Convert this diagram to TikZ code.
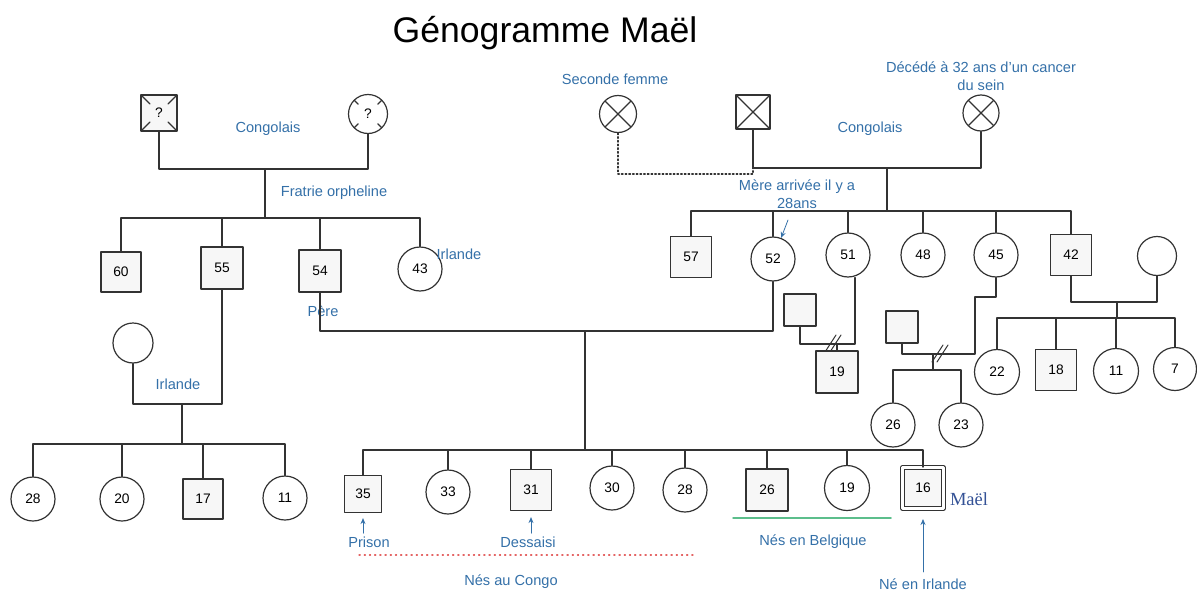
\documentclass[tikz,border=0pt]{standalone}
\usepackage{fontspec}
\setmainfont{Liberation Sans}
\newfontfamily\serifmael{Liberation Serif}
\usetikzlibrary{calc,arrows.meta}

\definecolor{lblue}{RGB}{52,112,168}
\definecolor{mblue}{RGB}{52,82,150}
\definecolor{lred}{RGB}{228,100,100}
\definecolor{lgreen}{RGB}{92,190,140}

\tikzset{
	homme/.style={draw=black!80, line width=1.2pt, rectangle, minimum size=#1, inner sep=0pt, fill=black!3, font=\fontsize{13.8}{14}\selectfont},
	homme/.default=41pt,
	femme/.style={draw=black!80, line width=1.2pt, circle, minimum size=#1, inner sep=0pt, fill=white, font=\fontsize{13.8}{14}\selectfont},
	femme/.default=44pt,
	lbl/.style={text=lblue, font=\fontsize{14.6}{18}\selectfont, align=center},
	lien/.style={draw=black!80, line width=1.4pt},
	note/.style={-{Stealth[length=6pt,width=5pt]}, draw=lblue, line width=0.8pt},
	croix/.style={path picture={\draw[line width=1.1pt] (path picture bounding box.south west) -- (path picture bounding box.north east)
			(path picture bounding box.north west) -- (path picture bounding box.south east);}},
	inconnu/.style={path picture={\foreach \c in {south west,south east,north west,north east}
			\draw[line width=1.1pt] (path picture bounding box.\c) -- ($(path picture bounding box.\c)!0.5!(path picture bounding box.center)$);}},
	divorce/.pic={\draw[black!80, line width=1pt] (-8,8)--(3,-9) (-3,8)--(8,-9);}
}

\begin{document}
\begin{tikzpicture}[x=1pt, y=-1pt, >=stealth, line join=round, line cap=round]
	\useasboundingbox (0,0) rectangle (1197,605);
	\node[font=\fontsize{35.6}{40}\selectfont] (titre) at (545,33) {Génogramme Maël};
	
	% grands-parents paternels
	\node[homme=36pt, inconnu] (gpp) at (159,113) {?};
	\node[femme=39pt, inconnu] (gmp) at (368,114) {?};
	\coordinate (cp) at (265,169);
	\coordinate (fp) at (265,218);
	\draw[lien] (gpp.south) |- (cp) -| (gmp.south);
	\draw[lien] (cp) -- (fp);
	\node[lbl] (lcongo1) at (268,129) {Congolais};
	\node[lbl] (lfratrie) at (334,193) {Fratrie orpheline};
	
	% fratrie du pere
	\node[homme=40pt] (o60) at (121,272) {60};
	\node[homme=42pt] (o55) at (222,268) {55};
	\node[homme=42pt] (o54) at (320,271) {54};
	\node[femme] (o43) at (420,269) {43};
	\draw[lien] (o60.north) |- (fp) -| (o43.north);
	\foreach \n in {o55,o54} \draw[lien] (\n.north) -- (\n.north |- fp);
	\node[lbl] (lirl43) at (459,254) {Irlande};
	\node[lbl] (lpere) at (323,311) {Père};
	
	% famille du 55
	\node[femme=40pt] (f55) at (133,343) {};
	\coordinate (c55) at (182,404);
	\coordinate (b55) at (182,444);
	\draw[lien] (f55.south) |- (c55) -| (o55.south);
	\draw[lien] (c55) -- (b55);
	\node[lbl] (lirl55) at (178,384) {Irlande};
	\node[femme] (k28) at (33,499) {28};
	\node[femme] (k20) at (122,499) {20};
	\node[homme=40pt] (k17) at (203,499) {17};
	\node[femme] (k11) at (285,498) {11};
	\draw[lien] (k28.north) |- (b55) -| (k11.north);
	\foreach \n in {k20,k17} \draw[lien] (\n.north) -- (\n.north |- b55);
	
	% grands-parents maternels
	\node[femme=37pt, croix] (sf) at (618,114) {};
	\node[homme=34pt, fill=white, croix] (gpm) at (753,112) {};
	\node[femme=36pt, croix] (gmm) at (981,113) {};
	\coordinate (cm) at (887,168);
	\coordinate (fm) at (887,211);
	\coordinate (sfj) at (753,174);
	\draw[lien] (gpm.south) |- (cm) -| (gmm.south);
	\draw[lien] (cm) -- (fm);
	\draw[lien, dash pattern=on 1.5pt off 2.2pt] (sf.south) |- (sfj) -- (gpm.south);
	\node[lbl] (lseconde) at (615,79) {Seconde femme};
	\node[lbl] (ldeces) at (981,76) {Décédé à 32 ans d'un cancer\\du sein};
	\node[lbl] (lcongo2) at (870,129) {Congolais};
	\node[lbl] (lmere) at (797,194) {Mère arrivée il y a\\28ans};
	
	% fratrie de la mere
	\node[homme] (u57) at (691,257) {57};
	\node[femme] (m52) at (773,259) {52};
	\node[femme] (a51) at (848,255) {51};
	\node[femme] (a48) at (923,255) {48};
	\node[femme] (a45) at (996,255) {45};
	\node[homme] (u42) at (1071,255) {42};
	\draw[lien] (u57.north) |- (fm) -| (u42.north);
	\foreach \n in {m52,a51,a48,a45} \draw[lien] (\n.north) -- (\n.north |- fm);
	\coordinate (a52) at (788,220);
	\draw[note] (a52) -- (m52);
	
	% famille du 42
	\node[femme=39pt] (f42) at (1157,256) {};
	\coordinate (c42) at (1117,302);
	\coordinate (b42) at (1117,318);
	\draw[lien] (u42.south) |- (c42) -| (f42.south);
	\draw[lien] (c42) -- (b42);
	\node[femme=45pt] (g22) at (997,372) {22};
	\node[homme] (g18) at (1056,370) {18};
	\node[femme=45pt] (g11) at (1116,371) {11};
	\node[femme=43pt] (g7) at (1175,369) {7};
	\draw[lien] (g22.north) |- (b42) -| (g7.north);
	\foreach \n in {g18,g11} \draw[lien] (\n.north) -- (\n.north |- b42);
	
	% famille du 51
	\node[homme=32pt] (p51) at (800,310) {};
	\coordinate (c51) at (837,344);
	\draw[lien] (p51.south) |- (c51) -| ([xshift=7pt]a51.south);
	\pic at (833,344) {divorce};
	\node[homme=42pt] (n19) at (837,372) {19};
	\draw[lien] (c51) -- (n19.north);
	
	% famille du 45
	\node[homme=32pt] (p45) at (902,327) {};
	\coordinate (c45) at (933,354);
	\coordinate (b45) at (933,370);
	\draw[lien] (a45.south) |- (975,297) |- (p45.south |- c45) -- (p45.south);
	\pic at (940,354) {divorce};
	\draw[lien] (c45) -- (b45);
	\node[femme] (n26) at (893,425) {26};
	\node[femme] (n23) at (961,425) {23};
	\draw[lien] (n26.north) |- (b45) -| (n23.north);
	
	% couple des parents et fratrie de Mael
	\coordinate (cc) at (585,331);
	\coordinate (bc) at (585,450);
	\draw[lien] (o54.south) |- (cc) -| (m52.south);
	\draw[lien] (cc) -- (bc);
	\node[homme=37pt] (s35) at (363,494) {35};
	\node[femme] (s33) at (448,492) {33};
	\node[homme] (s31) at (531,490) {31};
	\node[femme] (s30) at (612,488) {30};
	\node[femme] (s28) at (685,490) {28};
	\node[homme=42pt] (s26) at (767,490) {26};
	\node[femme=45pt] (s19) at (847,488) {19};
	\node[homme, line width=1pt, double, double distance=2.5pt] (mael) at (923,488) {16};
	\draw[lien] (s35.north) |- (bc) -| (mael.north);
	\foreach \n in {s33,s31,s30,s28,s26,s19} \draw[lien] (\n.north) -- (\n.north |- bc);
	\node[text=mblue, font=\serifmael\fontsize{18.5}{20}\selectfont] (lmael) at (969,499) {Maël};
	
	% annotations
	\node[lbl] (lprison) at (369,542) {Prison};
	\node[lbl] (ldess) at (528,542) {Dessaisi};
	\draw[note, shorten >=5pt] (lprison.north -| s35.south) -- (s35.south);
	\draw[note, shorten >=6pt] (ldess.north -| s31.south) -- (s31.south);
	\draw[lred, line width=1.2pt, dash pattern=on 1.2pt off 4pt] (359,555) -- (693,555);
	\node[lbl] (lcongo) at (511,582) {Nés au Congo};
	\draw[lgreen, line width=1.5pt] (733,518) -- (891,518);
	\node[lbl] (lbelg) at (813,542) {Nés en Belgique};
	\node[lbl] (lirl) at (923,584) {Né en Irlande};
	\draw[note, shorten <=3pt, shorten >=10pt] (lirl.north) -- (lirl.north |- mael.south);
\end{tikzpicture}
\end{document}
